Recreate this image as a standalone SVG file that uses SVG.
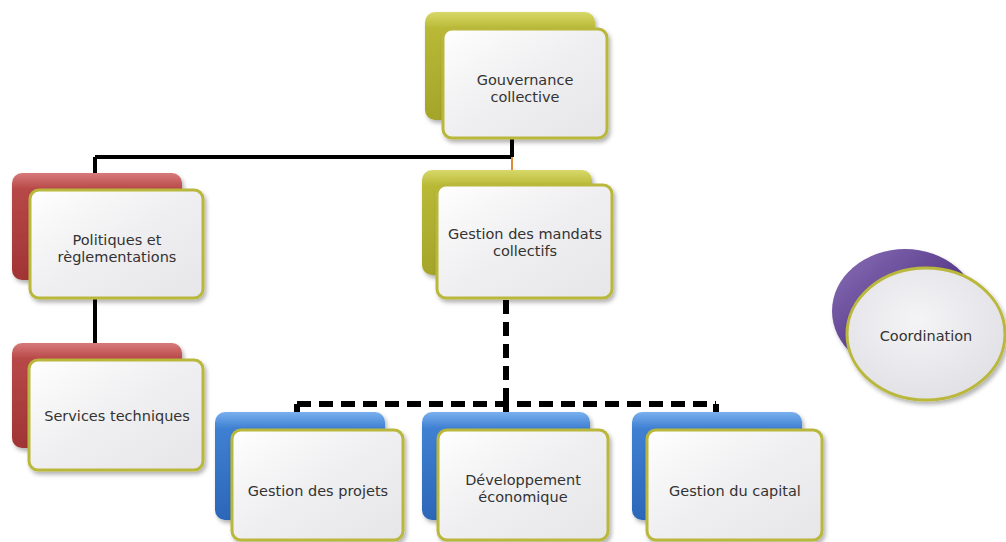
<svg xmlns="http://www.w3.org/2000/svg" width="1006" height="542" viewBox="0 0 1006 542">
<defs>
<linearGradient id="gOlive" x1="0" y1="0" x2="0" y2="1"><stop offset="0" stop-color="#d8d86a"/><stop offset="0.15" stop-color="#b9b936"/><stop offset="1" stop-color="#a4a42a"/></linearGradient>
<linearGradient id="gRed" x1="0" y1="0" x2="0" y2="1"><stop offset="0" stop-color="#d87a7a"/><stop offset="0.15" stop-color="#b84848"/><stop offset="1" stop-color="#a03434"/></linearGradient>
<linearGradient id="gBlue" x1="0" y1="0" x2="0" y2="1"><stop offset="0" stop-color="#7ab0ee"/><stop offset="0.15" stop-color="#3f80d2"/><stop offset="1" stop-color="#2c66b8"/></linearGradient>
<linearGradient id="gPurple" x1="0" y1="0" x2="1" y2="1"><stop offset="0" stop-color="#8a70b8"/><stop offset="0.5" stop-color="#5d3f8e"/><stop offset="1" stop-color="#4a2f78"/></linearGradient>
<linearGradient id="gFront" x1="0" y1="0" x2="1" y2="1"><stop offset="0" stop-color="#ffffff"/><stop offset="0.5" stop-color="#efeef0"/><stop offset="1" stop-color="#e6e5e8"/></linearGradient>
<radialGradient id="gFrontE" cx="0.45" cy="0.4" r="0.6"><stop offset="0" stop-color="#f4f4f6"/><stop offset="1" stop-color="#e2e1e6"/></radialGradient>
<filter id="sh" x="-10%" y="-10%" width="130%" height="130%"><feDropShadow dx="2" dy="3" stdDeviation="2" flood-color="#000" flood-opacity="0.3"/></filter>
</defs>
<style>
.back{stroke:none;filter:url(#sh)}
.front{fill:url(#gFront);stroke:#b9b83c;stroke-width:3;filter:url(#sh)}
.lbl{font-family:"DejaVu Sans",sans-serif;font-size:14.5px;fill:#333;text-anchor:middle}
.solid{stroke:#000;stroke-width:4;fill:none}
.dash{stroke:#000;stroke-width:6;fill:none;stroke-dasharray:14 8}
</style>
<g id="connectors">
<path class="solid" d="M512 138 V157 M95 157 H512 M95 157 V176"/>
<path d="M512 157 V172" stroke="#e08a3c" stroke-width="2" fill="none"/>
<path class="solid" d="M95 298 V346"/>
<path class="dash" d="M506 300 V404"/>
<path class="dash" d="M297 404 H716"/>
<path d="M297 404 V413 M506 404 V413 M716 404 V413" stroke="#000" stroke-width="6" fill="none"/>
</g>
<g id="gouvernance">
<rect class="back" x="425" y="12" width="170" height="108" rx="10" fill="url(#gOlive)"/>
<rect class="front" x="443" y="29" width="164" height="109" rx="9"/>
<text class="lbl" x="525" y="85">Gouvernance</text>
<text class="lbl" x="525" y="102">collective</text>
</g>
<g id="politiques">
<rect class="back" x="12" y="173" width="170" height="107" rx="10" fill="url(#gRed)"/>
<rect class="front" x="30" y="190" width="173" height="108" rx="9"/>
<text class="lbl" x="117" y="245">Politiques et</text>
<text class="lbl" x="117" y="262">règlementations</text>
</g>
<g id="services">
<rect class="back" x="12" y="343" width="170" height="105" rx="10" fill="url(#gRed)"/>
<rect class="front" x="29" y="360" width="174" height="110" rx="9"/>
<text class="lbl" x="117" y="421">Services techniques</text>
</g>
<g id="mandats">
<rect class="back" x="422" y="170" width="170" height="105" rx="10" fill="url(#gOlive)"/>
<rect class="front" x="437" y="185" width="175" height="113" rx="9"/>
<text class="lbl" x="525" y="239">Gestion des mandats</text>
<text class="lbl" x="525" y="256">collectifs</text>
</g>
<g id="projets">
<rect class="back" x="215" y="412" width="170" height="108" rx="10" fill="url(#gBlue)"/>
<rect class="front" x="232" y="430" width="171" height="110" rx="9"/>
<text class="lbl" x="318" y="496">Gestion des projets</text>
</g>
<g id="developpement">
<rect class="back" x="422" y="412" width="168" height="108" rx="10" fill="url(#gBlue)"/>
<rect class="front" x="438" y="430" width="170" height="110" rx="9"/>
<text class="lbl" x="523" y="485">Développement</text>
<text class="lbl" x="523" y="502">économique</text>
</g>
<g id="capital">
<rect class="back" x="632" y="412" width="170" height="108" rx="10" fill="url(#gBlue)"/>
<rect class="front" x="647" y="430" width="175" height="110" rx="9"/>
<text class="lbl" x="735" y="496">Gestion du capital</text>
</g>
<g id="coordination">
<ellipse class="back" cx="905" cy="311" rx="73" ry="62" fill="url(#gPurple)"/>
<ellipse cx="926" cy="334" rx="79" ry="66" fill="url(#gFrontE)" stroke="#b9b83c" stroke-width="3" filter="url(#sh)"/>
<text class="lbl" x="926" y="341">Coordination</text>
</g>
</svg>
